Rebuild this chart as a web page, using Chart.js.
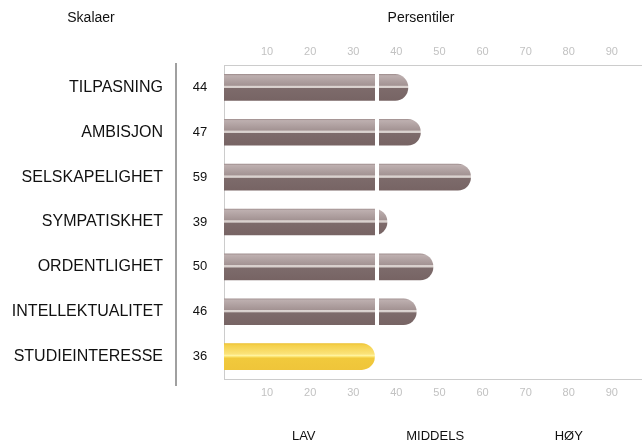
<!DOCTYPE html>
<html><head><meta charset="utf-8">
<script src="https://cdn.jsdelivr.net/npm/chart.js@4.4.1/dist/chart.umd.min.js"></script>
<style>html,body{margin:0;padding:0;background:#fff;}#wrap{width:642px;height:442px;position:relative;}</style>
</head><body><div id="wrap"><canvas id="c" width="642" height="442"></canvas></div>
<script>
// ---- data ----
const skalaer = ['TILPASNING','AMBISJON','SELSKAPELIGHET','SYMPATISKHET','ORDENTLIGHET','INTELLEKTUALITET','STUDIEINTERESSE'];
const persentiler = [44, 47, 59, 39, 50, 46, 36];
const fremhevet = [false, false, false, false, false, false, true];
const tickVerdier = [10, 20, 30, 40, 50, 60, 70, 80, 90];
const soner = ['LAV', 'MIDDELS', 'HØY'];
const sonePosisjon = [18.5, 49, 80];
const middelsGrense = 35.5;
const overskrifter = ['Skalaer', 'Persentiler'];

// ---- style ----
const FONT = "'Liberation Sans', Arial, Helvetica, sans-serif";
Chart.defaults.font.family = FONT;
const BAR_H = 26;

function makeGradient(ctx, top, bottom, hi) {
  const g = ctx.createLinearGradient(0, top, 0, bottom);
  if (hi) {
    g.addColorStop(0, '#ecc030'); g.addColorStop(0.05, '#f4cf48');
    g.addColorStop(0.40, '#fbe37a'); g.addColorStop(0.46, '#fff3a0');
    g.addColorStop(0.51, '#fbe269'); g.addColorStop(0.56, '#f1c93c');
    g.addColorStop(1, '#efc53a');
  } else {
    g.addColorStop(0, '#a29191'); g.addColorStop(0.05, '#bdafaf');
    g.addColorStop(0.42, '#a39393'); g.addColorStop(0.45, '#ddd5d2');
    g.addColorStop(0.51, '#d6cecb'); g.addColorStop(0.54, '#7d6b6b');
    g.addColorStop(1, '#776464');
  }
  return g;
}

const extras = {
  id: 'extras',
  beforeDatasetsDraw(chart) {
    const meta = chart.getDatasetMeta(0);
    meta.data.forEach((el, i) => {
      const h = el.height;
      if (!isFinite(el.y) || !isFinite(h)) return;
      el.options.backgroundColor = makeGradient(chart.ctx, el.y - h / 2, el.y + h / 2, fremhevet[i]);
    });
  },
  afterDatasetsDraw(chart) {
    const { ctx, chartArea, scales } = chart;
    const xw = scales.x.getPixelForValue(middelsGrense);
    ctx.save();
    ctx.fillStyle = '#ffffff';
    ctx.fillRect(Math.round(xw) - 2, chartArea.top + 1, 4, chartArea.bottom - chartArea.top - 2);
    ctx.restore();
  },
  afterDraw(chart) {
    const { ctx, chartArea, scales } = chart;
    ctx.save();
    ctx.strokeStyle = '#a0a0a0'; ctx.lineWidth = 2;
    ctx.beginPath(); ctx.moveTo(176, chartArea.top - 2); ctx.lineTo(176, chartArea.bottom + 7); ctx.stroke();
    ctx.fillStyle = '#111'; ctx.font = '13px ' + FONT;
    ctx.textAlign = 'center'; ctx.textBaseline = 'middle';
    persentiler.forEach((v, i) => ctx.fillText(String(v), 200, scales.y.getPixelForValue(i)));
    soner.forEach((s, i) => ctx.fillText(s, scales.x.getPixelForValue(sonePosisjon[i]), 436));
    ctx.font = '14px ' + FONT;
    ctx.fillText(overskrifter[0], 91, 18);
    ctx.fillText(overskrifter[1], 421, 18);
    ctx.restore();
  }
};

const axisCommon = (pos, h, pad) => ({
  type: 'linear', position: pos, min: 0, max: 97,
  grid: { display: false, drawTicks: false },
  border: { display: true, color: '#cccccc', width: 1 },
  ticks: { color: '#c2c2c2', font: { size: 11 }, padding: pad, autoSkip: false, maxRotation: 0 },
  afterBuildTicks(s) { s.ticks = tickVerdier.map(v => ({ value: v })); },
  afterFit(s) { s.height = h; s.paddingLeft = 0; s.paddingRight = 0; }
});

new Chart(document.getElementById('c'), {
  type: 'bar',
  data: {
    labels: skalaer,
    datasets: [{
      data: persentiler,
      xAxisID: 'xb', yAxisID: 'y',
      backgroundColor: (c) => fremhevet[c.dataIndex] ? '#f0c83c' : '#7a6868',
      borderWidth: 0,
      borderSkipped: 'start',
      borderRadius: { topLeft: 0, bottomLeft: 0, topRight: 13, bottomRight: 13 },
      barThickness: BAR_H
    }]
  },
  options: {
    indexAxis: 'y',
    responsive: false,
    animation: false,
    devicePixelRatio: 1,
    layout: { padding: 0 },
    plugins: { legend: { display: false }, tooltip: { enabled: false } },
    scales: {
      y: {
        type: 'category', position: 'left', offset: true,
        grid: { display: false, drawTicks: false },
        border: { display: true, color: '#cccccc', width: 1 },
        ticks: { color: '#111', font: { size: 16 }, padding: 61 },
        afterFit(s) { s.width = 224; s.paddingTop = 0; s.paddingBottom = 0; }
      },
      xb: { type: 'linear', axis: 'x', position: 'top', min: 0, max: 100, display: false },
      x: axisCommon('top', 65, 6),
      x2: axisCommon('bottom', 63, 7)
    }
  },
  plugins: [extras]
});
</script></body></html>
